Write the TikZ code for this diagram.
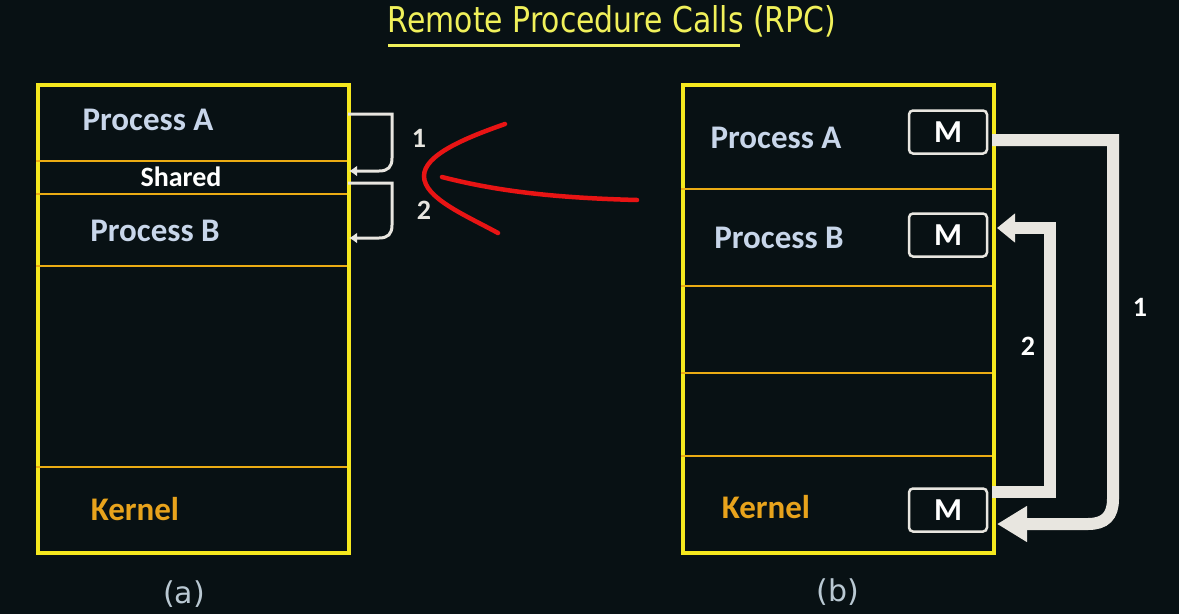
\documentclass[tikz,border=0pt]{standalone}
\usepackage{fontspec}
\setmainfont{Carlito}
\newfontfamily\titlefont{DejaVu Sans}
\usetikzlibrary{arrows.meta}
\definecolor{bg}{RGB}{8,17,20}
\definecolor{frameyel}{RGB}{245,232,30}
\definecolor{sepor}{RGB}{235,172,20}
\definecolor{proc}{RGB}{200,214,234}
\definecolor{kern}{RGB}{232,163,28}
\definecolor{arr}{RGB}{232,230,224}
\definecolor{rpcred}{RGB}{232,20,20}
\definecolor{titley}{RGB}{240,240,90}
\definecolor{captxt}{RGB}{185,200,210}
\begin{document}
\begin{tikzpicture}[x=1pt,y=-1pt,
  mem/.style={draw=frameyel,line width=3.5pt,inner sep=0pt,anchor=north west,minimum width=311pt,minimum height=468pt},
  sep/.style={draw=sepor,line width=2.5pt},
  plabel/.style={text=proc,font=\bfseries\fontsize{33}{38}\selectfont},
  slabel/.style={text=white,font=\bfseries\fontsize{28}{32}\selectfont},
  klabel/.style={text=kern,font=\bfseries\fontsize{33}{38}\selectfont},
  mbox/.style={draw=arr,line width=2.5pt,rounded corners=4pt,minimum width=78pt,minimum height=43pt,text=white,font=\bfseries\fontsize{32}{36}\selectfont,inner sep=0pt},
  num/.style={text=arr,font=\bfseries\fontsize{28}{32}\selectfont},
  thinarrow/.style={draw=arr,line width=3pt,-{Latex[length=8pt,width=11pt]}},
  fatarrow/.style={draw=arr,line width=12pt},
  redmark/.style={draw=rpcred,line width=4.5pt,line cap=round},
  captext/.style={text=captxt,font=\titlefont\fontsize{30}{34}\selectfont}
]
\useasboundingbox[fill=bg] (0,0) rectangle (1179,614);

% title
\node[text=titley,font=\titlefont] (title) at (612,21) {\resizebox{448pt}{27pt}{Remote Procedure Calls (RPC)}};
\draw[titley,line width=3pt] (388,45) -- (740,45);

% ---------- (a) ----------
\node[mem] (L) at (36,83) {};
\draw[sep] (36,161) -- (347,161);
\draw[sep] (36,194) -- (347,194);
\draw[sep] (36,266) -- (347,266);
\draw[sep] (36,467) -- (347,467);
\node[plabel] (LA) at (148,120) {Process A};
\node[slabel] (LS) at (181,177) {Shared};
\node[plabel] (LB) at (155,231) {Process B};
\node[klabel] (LK) at (135,509) {Kernel};
\node[captext] (capa) at (184,594) {(a)};

\coordinate (a1s) at (348,114);
\coordinate (a1e) at (349,171);
\coordinate (a2s) at (348,183);
\coordinate (a2e) at (349,238);
\draw[thinarrow] (a1s) -- (392,114) -- (392,158) .. controls (392,167) and (388,171) .. (379,171) -- (a1e);
\draw[thinarrow] (a2s) -- (392,183) -- (392,225) .. controls (392,234) and (388,238) .. (379,238) -- (a2e);
\node[num] (n1a) at (419,138) {1};
\node[num] (n2a) at (424,210) {2};

% red marks
\draw[redmark] (505,124) .. controls (465,138) and (424,155) .. (424,176) .. controls (424,198) and (465,215) .. (498,233);
\draw[redmark] (442,177) .. controls (500,192) and (560,198) .. (637,200);

% ---------- (b) ----------
\node[mem] (R) at (681,83) {};
\draw[sep] (681,189) -- (992,189);
\draw[sep] (681,286) -- (992,286);
\draw[sep] (681,373) -- (992,373);
\draw[sep] (681,456) -- (992,456);
\node[plabel] (RA) at (776,138) {Process A};
\node[plabel] (RB) at (779,238) {Process B};
\node[klabel] (RK) at (766,507) {Kernel};
\node[mbox] (mA) at (948,132) {M};
\node[mbox] (mB) at (948,235) {M};
\node[mbox] (mK) at (948,510) {M};
\node[captext] (capb) at (838,592) {(b)};

\coordinate (b1s) at (992,140);
\coordinate (b1e) at (997,524);
\coordinate (b2s) at (992,492);
\coordinate (b2e) at (997,228);
\draw[fatarrow,-{Triangle[length=30pt,width=34pt]}] (b1s) -- (1113,140) -- (1113,499) .. controls (1113,516) and (1105,524) .. (1088,524) -- (b1e);
\draw[fatarrow,-{Triangle[length=18pt,width=28pt]}] (b2s) -- (1050,492) -- (1050,228) -- (b2e);
\node[num,text=white] (n1b) at (1140,307) {1};
\node[num,text=white] (n2b) at (1028,346) {2};
\end{tikzpicture}
\end{document}
